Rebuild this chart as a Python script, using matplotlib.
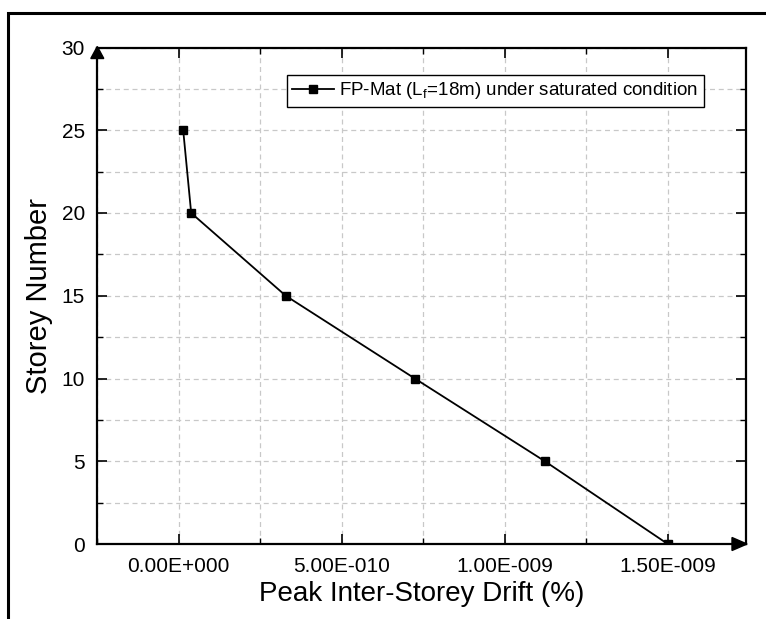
import matplotlib
matplotlib.use("Agg")
import matplotlib.pyplot as plt
from matplotlib.patches import Polygon, Rectangle
from matplotlib.transforms import IdentityTransform
from matplotlib.ticker import MultipleLocator, FuncFormatter

plt.rcParams['font.family'] = ['Liberation Sans', 'DejaVu Sans']

# Data
storey = [25, 20, 15, 10, 5, 0]
drift = [1.35e-11, 3.8e-11, 3.28e-10, 7.24e-10, 1.123e-9, 1.5e-9]
x_ticks = [0, 5e-10, 1e-9, 1.5e-9]
series_label = "FP-Mat (L$_\\mathregular{f}$=18m) under saturated condition"
x_label = "Peak Inter-Storey Drift (%)"
y_label = "Storey Number"

fig = plt.figure(figsize=(7.66, 6.19), dpi=100)
ax = fig.add_axes([97.3/766, 1-544/619, (746-97.3)/766, (544-47.5)/619])

ax.plot(drift, storey, color='black', lw=1.3, marker='s', markersize=5.5,
        markerfacecolor='black', markeredgecolor='black', label=series_label)

ax.set_xlim(-2.5e-10, 1.74e-9)
ax.set_ylim(0, 30)

ax.xaxis.set_minor_locator(MultipleLocator(2.5e-10))
ax.yaxis.set_major_locator(MultipleLocator(5))
ax.yaxis.set_minor_locator(MultipleLocator(2.5))

def xfmt(v, pos):
    if abs(v) < 1e-20:
        return "0.00E+000"
    m, e = f"{v:.2E}".split("E")
    ei = int(e)
    return f"{m}E{'-' if ei < 0 else '+'}{abs(ei):03d}"

ax.set_xticks(x_ticks)
ax.xaxis.set_major_formatter(FuncFormatter(xfmt))

ax.grid(True, which='both', color='#c8c8c8', linestyle=(0, (4, 3)), linewidth=0.9)
ax.set_axisbelow(True)

ax.tick_params(which='major', direction='in', length=7, width=1.2, top=True, right=True,
               labelsize=15, pad=9)
ax.tick_params(which='minor', direction='in', length=4, width=1.0, top=True, right=True)
for s in ax.spines.values():
    s.set_linewidth(1.6)

ax.set_xlabel(x_label, fontsize=20, labelpad=4)
ax.set_ylabel(y_label, fontsize=21, labelpad=6)

leg = ax.legend(loc='upper right', bbox_to_anchor=(0.935, 0.945), fontsize=13.5,
                frameon=True, fancybox=False, edgecolor='black', framealpha=1,
                handlelength=2.2, borderpad=0.3, handletextpad=0.3, borderaxespad=0)
leg.get_frame().set_linewidth(1.0)

# Arrows at axis ends
fig.canvas.draw()
x0, y0 = ax.transAxes.transform((0, 1))
x1, y1 = ax.transAxes.transform((1, 0))
up = Polygon([(x0, y0 + 1), (x0 - 6.5, y0 - 11), (x0 + 6.5, y0 - 11)], closed=True,
             transform=IdentityTransform(), color='black', zorder=10)
right = Polygon([(x1 + 1, y1), (x1 - 14, y1 + 6.5), (x1 - 14, y1 - 6.5)], closed=True,
                transform=IdentityTransform(), color='black', zorder=10)
fig.add_artist(up)
fig.add_artist(right)

# Outer frame
fig.add_artist(Rectangle((8/766, -0.05), 1.2, 1 - 13/619 + 0.05, transform=fig.transFigure,
                         fill=False, edgecolor='black', linewidth=2.2))

fig.savefig("out.png", dpi=100)
